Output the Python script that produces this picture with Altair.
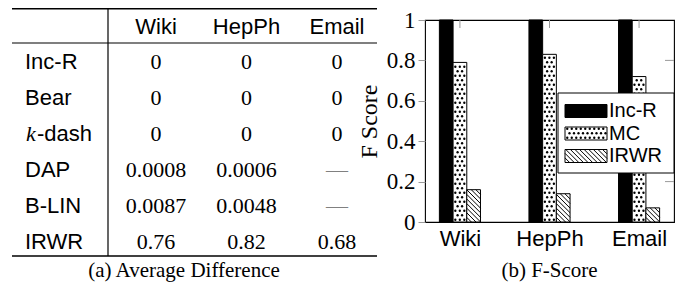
import json
import altair as alt
import pandas as pd

# ---------------- data ----------------
table_columns = ["Wiki", "HepPh", "Email"]
table_methods = ["Inc-R", "Bear", "k-dash", "DAP", "B-LIN", "IRWR"]
diff_wiki = ["0", "0", "0", "0.0008", "0.0087", "0.76"]
diff_hepph = ["0", "0", "0", "0.0006", "0.0048", "0.82"]
diff_email = ["0", "0", "0", "—", "—", "0.68"]

datasets = ["Wiki", "HepPh", "Email"]
series = ["Inc-R", "MC", "IRWR"]
fscore_incr = [1.0, 1.0, 1.0]
fscore_mc = [0.79, 0.83, 0.72]
fscore_irwr = [0.16, 0.14, 0.07]
y_ticks = [0, 0.2, 0.4, 0.6, 0.8, 1]
y_title = "F Score"
caption_a = "(a) Average Difference"
caption_b = "(b) F-Score"

# ---------------- layout / style ----------------
PW, PH = 249, 202                 # bar-chart plot area (px)
X_DOMAIN = [-0.39, 2.39]
KX = PW / (X_DOMAIN[1] - X_DOMAIN[0])
BAR_PX = 13.7
BW = BAR_PX / KX
SANS = "Liberation Sans"
SERIF = "Liberation Serif"
TICK_GRAY = "#9a9a9a"

xs = alt.Scale(domain=X_DOMAIN, nice=False, zero=False)
ys = alt.Scale(domain=[0, 1], nice=False, zero=False)
LX = alt.Scale(domain=[0, PW], range=[0, PW], nice=False, zero=False)
LY = alt.Scale(domain=[0, PH], range=[PH, 0], nice=False, zero=False)
TX = alt.Scale(domain=[0, 2], range=[-269, -88], nice=False, zero=False)
TY = alt.Scale(domain=[-1, 5], range=[6.6, 221.8], nice=False, zero=False)
fill_scale = alt.Scale(domain=series, range=["black", "white", "white"])

one = pd.DataFrame({"_": [0]})

# ---------------- pattern helpers ----------------
def dot_pattern(chart, kx, ky, xscale, yscale, step=4.5, size=5.5):
    return (
        chart.transform_calculate(ts=f"sequence({step/2}, datum.rh_px - 1, {step})")
        .transform_flatten(["ts"], as_=["t"])
        .transform_calculate(
            us=f"sequence(round((datum.t - {step/2})/{step}) % 2 == 0 ? {step/2} : {step}, datum.rw_px - 1, {step})"
        )
        .transform_flatten(["us"], as_=["u"])
        .transform_calculate(px=f"datum.rx0 + datum.u/{kx}")
        .transform_calculate(py=f"datum.rb + datum.t/{ky}")
        .mark_circle(size=size, color="black", opacity=1)
        .encode(
            x=alt.X("px:Q", scale=xscale, axis=None),
            y=alt.Y("py:Q", scale=yscale, axis=None),
        )
    )


def hatch_pattern(chart, kx, ky, xscale, yscale, step=4.6):
    return (
        chart.transform_calculate(ks=f"sequence({step}, datum.rw_px + datum.rh_px, {step})")
        .transform_flatten(["ks"], as_=["k"])
        .transform_calculate(ua="max(0, datum.k - datum.rh_px)")
        .transform_calculate(ub="min(datum.rw_px, datum.k)")
        .transform_calculate(hx1=f"datum.rx0 + datum.ua/{kx}")
        .transform_calculate(hy1=f"datum.rb + (datum.k - datum.ua)/{ky}")
        .transform_calculate(hx2=f"datum.rx0 + datum.ub/{kx}")
        .transform_calculate(hy2=f"datum.rb + (datum.k - datum.ub)/{ky}")
        .mark_rule(color="black", strokeWidth=1)
        .encode(
            x=alt.X("hx1:Q", scale=xscale, axis=None),
            y=alt.Y("hy1:Q", scale=yscale, axis=None),
            x2="hx2:Q",
            y2="hy2:Q",
        )
    )

# ---------------- bar chart ----------------
fscores = {"Inc-R": fscore_incr, "MC": fscore_mc, "IRWR": fscore_irwr}
rows = []
for gi, ds in enumerate(datasets):
    for si, s in enumerate(series):
        rows.append({"dataset": ds, "gi": gi, "series": s, "si": si, "value": fscores[s][gi]})
bars_df = pd.DataFrame(rows)

bar_base = alt.Chart(bars_df).transform_calculate(
    rx0=f"datum.gi - {1.5*BW} + datum.si*{BW}",
    rx1=f"datum.gi - {0.5*BW} + datum.si*{BW}",
    rb="0",
    rw_px=str(BAR_PX),
    rh_px=f"datum.value*{PH}",
)

x_axis = alt.Axis(
    values=list(range(len(datasets))),
    labelExpr=f"{json.dumps(datasets)}[datum.value]",
    title=None, domain=False, ticks=False, grid=False,
    labelFont=SANS, labelFontSize=22, labelColor="black", labelPadding=6,
)
y_axis = alt.Axis(
    values=y_ticks, format="~g", title=y_title, domain=False, grid=False,
    ticks=True, tickSize=7, tickColor=TICK_GRAY, tickWidth=1,
    labelFont=SERIF, labelFontSize=23, labelColor="black", labelPadding=3,
    titleFont=SERIF, titleFontSize=24, titleFontWeight="normal", titleColor="black",
    titlePadding=5,
)

bars = bar_base.mark_rect(stroke="black", strokeWidth=1).encode(
    x=alt.X("rx0:Q", scale=xs, axis=x_axis),
    x2="rx1:Q",
    y=alt.Y("value:Q", scale=ys, axis=y_axis),
    y2="rb:Q",
    fill=alt.Fill("series:N", scale=fill_scale, legend=None),
)
mc_dots = dot_pattern(bar_base.transform_filter("datum.series == 'MC'"), KX, PH, xs, ys)
irwr_hatch = hatch_pattern(bar_base.transform_filter("datum.series == 'IRWR'"), KX, PH, xs, ys)

top_ticks = alt.Chart(pd.DataFrame({"gi": list(range(len(datasets)))})).mark_rule(
    color=TICK_GRAY, strokeWidth=1
).encode(x=alt.X("gi:Q", scale=xs, axis=None), y=alt.value(0), y2=alt.value(8))

right_ticks = alt.Chart(pd.DataFrame({"v": y_ticks})).transform_filter(
    "datum.v > 0 && datum.v < 1"
).mark_rule(color=TICK_GRAY, strokeWidth=1).encode(
    y=alt.Y("v:Q", scale=ys, axis=None), x=alt.value(PW - 9), x2=alt.value(PW)
)

# ---------------- legend (drawn in plot pixels) ----------------
legend_df = pd.DataFrame({"series": series, "li": list(range(len(series)))})
legend_base = alt.Chart(legend_df).transform_calculate(
    tc="111 - 22.5*datum.li",
    rx0="140", rx1="182", rw_px="42", rh_px="13",
).transform_calculate(rb="datum.tc - 6.5", rt="datum.tc + 6.5")

legend_box = alt.Chart(one).mark_rect(fill="white", stroke="black", strokeWidth=1).encode(
    x=alt.value(133), x2=alt.value(PW), y=alt.value(73), y2=alt.value(153)
)
legend_swatch = legend_base.mark_rect(stroke="black", strokeWidth=1).encode(
    x=alt.X("rx0:Q", scale=LX, axis=None), x2="rx1:Q",
    y=alt.Y("rb:Q", scale=LY, axis=None), y2="rt:Q",
    fill=alt.Fill("series:N", scale=fill_scale, legend=None),
)
legend_dots = dot_pattern(legend_base.transform_filter("datum.series == 'MC'"), 1, 1, LX, LY)
legend_hatch = hatch_pattern(legend_base.transform_filter("datum.series == 'IRWR'"), 1, 1, LX, LY)
legend_text = legend_base.mark_text(
    align="left", baseline="middle", font=SANS, fontSize=20, color="black"
).encode(x=alt.value(184), y=alt.Y("tc:Q", scale=LY, axis=None), text="series:N")

# ---------------- table (a) ----------------
cells = []
for ri, m in enumerate(table_methods):
    for ci, col in enumerate([diff_wiki, diff_hepph, diff_email]):
        cells.append({"ri": ri, "ci": ci, "text": col[ri]})
cells_df = pd.DataFrame(cells)
methods_df = pd.DataFrame({"method": table_methods, "ri": list(range(len(table_methods)))})
header_df = pd.DataFrame({"name": table_columns, "ci": list(range(len(table_columns))), "ri": -1})

TL, TR = -413, -48
line_top, line_head, line_bottom, line_vert = -11.3, 23, 236, -317

def hline(yv, w=1.3):
    return alt.Chart(one).mark_rule(color="black", strokeWidth=w).encode(
        x=alt.value(TL), x2=alt.value(TR), y=alt.value(yv)
    )

table_lines = [
    hline(line_top, 1.4),
    hline(line_head, 1.2),
    hline(line_bottom, 1.4),
    alt.Chart(one).mark_rule(color="black", strokeWidth=1.2).encode(
        x=alt.value(line_vert), y=alt.value(line_top), y2=alt.value(line_bottom)
    ),
]

header = alt.Chart(header_df).mark_text(
    align="center", baseline="middle", font=SANS, fontSize=22, color="black"
).encode(
    x=alt.X("ci:Q", scale=TX, axis=None), y=alt.Y("ri:Q", scale=TY, axis=None), text="name:N"
)
row_labels = alt.Chart(methods_df).transform_filter("datum.method != 'k-dash'").mark_text(
    align="left", baseline="middle", font=SANS, fontSize=22, color="black"
).encode(x=alt.value(-400), y=alt.Y("ri:Q", scale=TY, axis=None), text="method:N")
kdash_k = alt.Chart(methods_df).transform_filter("datum.method == 'k-dash'").transform_calculate(
    part="substring(datum.method, 0, 1)"
).mark_text(
    align="left", baseline="middle", font=SERIF, fontSize=22, fontStyle="italic", color="black"
).encode(x=alt.value(-399), y=alt.Y("ri:Q", scale=TY, axis=None), text="part:N")
kdash_rest = alt.Chart(methods_df).transform_filter("datum.method == 'k-dash'").transform_calculate(
    part="substring(datum.method, 1)"
).mark_text(
    align="left", baseline="middle", font=SANS, fontSize=22, color="black"
).encode(x=alt.value(-388), y=alt.Y("ri:Q", scale=TY, axis=None), text="part:N")
cell_text = alt.Chart(cells_df).mark_text(
    align="center", baseline="middle", font=SERIF, fontSize=22
).encode(
    x=alt.X("ci:Q", scale=TX, axis=None),
    y=alt.Y("ri:Q", scale=TY, axis=None),
    text="text:N",
    color=alt.condition("datum.text == '—'", alt.value("#808080"), alt.value("black")),
)

# ---------------- captions ----------------
cap_a = alt.Chart(pd.DataFrame({"caption": [caption_a]})).mark_text(
    align="center", baseline="middle", font=SERIF, fontSize=21, color="black"
).encode(x=alt.value(184 - 425), y=alt.value(251), text="caption:N")
cap_b = alt.Chart(pd.DataFrame({"caption": [caption_b]})).mark_text(
    align="center", baseline="middle", font=SERIF, fontSize=21, color="black"
).encode(x=alt.value(PW / 2), y=alt.value(251), text="caption:N")

chart = alt.layer(
    bars, mc_dots, irwr_hatch, top_ticks, right_ticks,
    legend_box, legend_swatch, legend_dots, legend_hatch, legend_text,
    *table_lines, header, row_labels, kdash_k, kdash_rest, cell_text,
    cap_a, cap_b,
).resolve_scale(
    x="independent", y="independent"
).properties(
    width=PW, height=PH, autosize="none",
    padding={"left": 417, "top": 12, "right": 3, "bottom": 64},
).configure_view(stroke="black", strokeWidth=1.1)

chart.save("out.html", embed_options={"renderer": "svg", "actions": False})
